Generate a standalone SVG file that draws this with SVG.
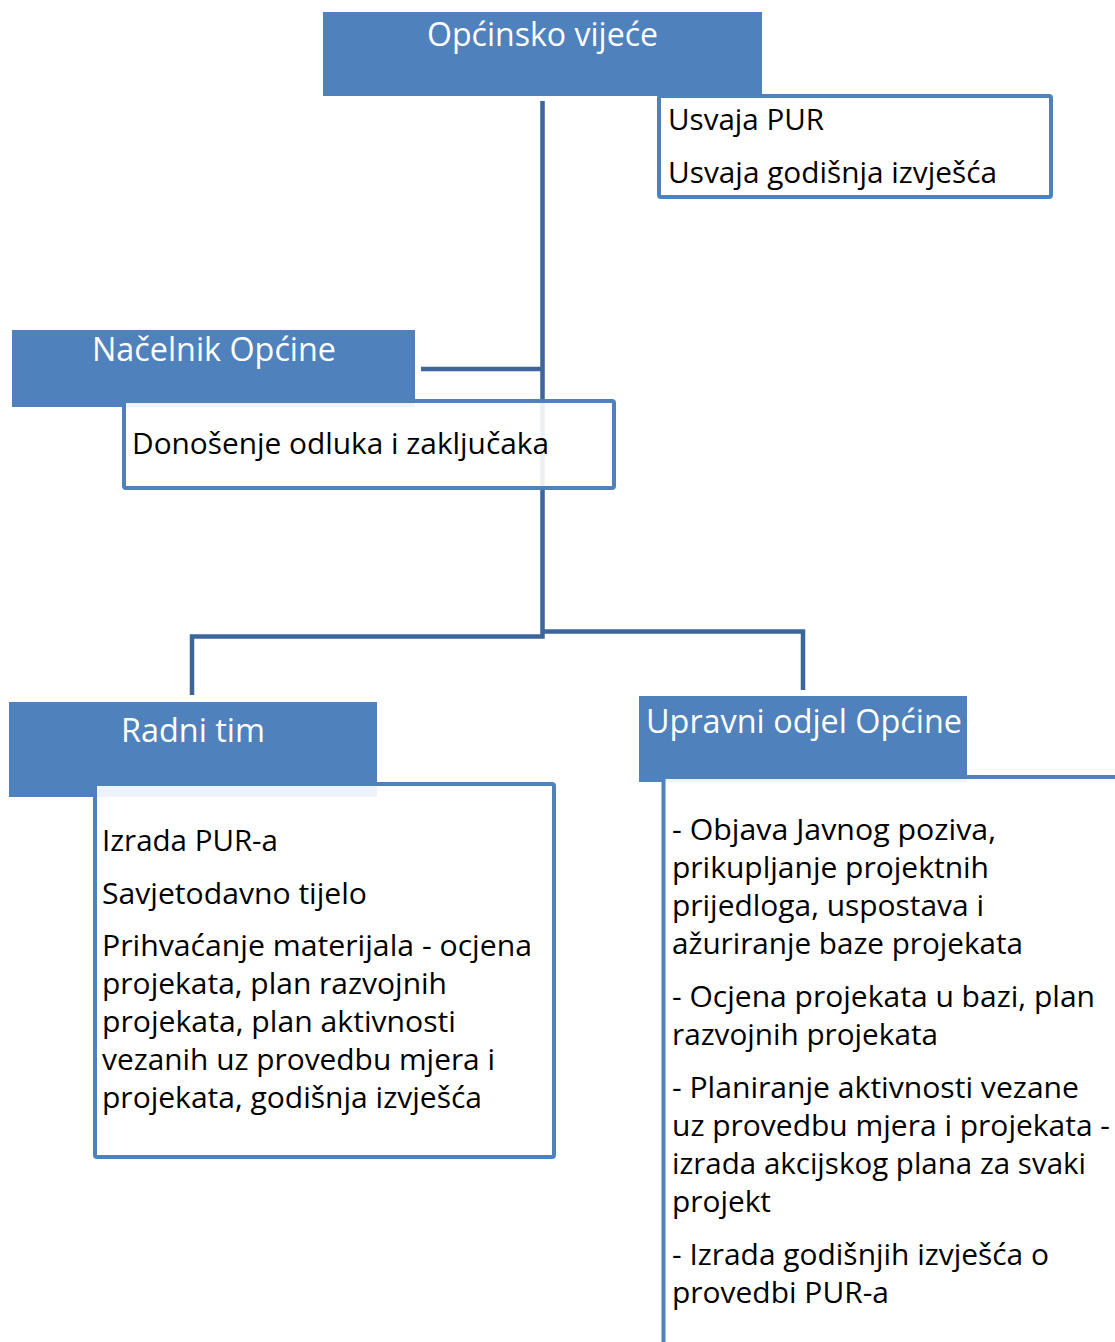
<svg xmlns="http://www.w3.org/2000/svg" width="1115" height="1342" viewBox="0 0 1115 1342">
<style>
.hdr{fill:#4F81BD}
.box{fill:#FFFFFF;fill-opacity:0.9;stroke:#4F81BD;stroke-width:4}
.conn{fill:none;stroke:#3C6699;stroke-width:4.5;stroke-linejoin:miter}
text{font-family:"Open Sans","Noto Sans",sans-serif;font-size:30px;fill:#000000}
text.h{font-size:32px;fill:#FFFFFF}
</style>
<rect width="1115" height="1342" fill="#FFFFFF"/>
<g id="connectors">
<path class="conn" d="M542.5,101 V636.5 H192 V695"/>
<path class="conn" d="M542.5,631.5 H803 V690"/>
<path class="conn" d="M421,369 H542.5"/>
</g>
<g id="node-opcinsko-vijece">
<rect class="hdr" x="323" y="12" width="439" height="84"/>
<text class="h" x="427" y="46" textLength="231" lengthAdjust="spacingAndGlyphs">Općinsko vijeće</text>
<rect class="box" x="659" y="96" width="392" height="101" rx="2"/>
<text x="668" y="130" textLength="156" lengthAdjust="spacingAndGlyphs">Usvaja PUR</text>
<text x="668" y="183" textLength="329" lengthAdjust="spacingAndGlyphs">Usvaja godišnja izvješća</text>
</g>
<g id="node-nacelnik">
<rect class="hdr" x="12" y="330" width="403" height="77"/>
<text class="h" x="92" y="361" textLength="244" lengthAdjust="spacingAndGlyphs">Načelnik Općine</text>
<rect class="box" x="124" y="401" width="490" height="87" rx="2"/>
<text x="132" y="454" textLength="417" lengthAdjust="spacingAndGlyphs">Donošenje odluka i zaključaka</text>
</g>
<g id="node-radni-tim">
<rect class="hdr" x="9" y="702" width="368" height="95"/>
<text class="h" x="121" y="742" textLength="144" lengthAdjust="spacingAndGlyphs">Radni tim</text>
<rect class="box" x="95" y="784" width="459" height="373" rx="2"/>
<text x="102" y="851" textLength="176" lengthAdjust="spacingAndGlyphs">Izrada PUR-a</text>
<text x="102" y="904" textLength="265" lengthAdjust="spacingAndGlyphs">Savjetodavno tijelo</text>
<text x="102" y="956" textLength="430" lengthAdjust="spacingAndGlyphs">Prihvaćanje materijala - ocjena</text>
<text x="102" y="994" textLength="345" lengthAdjust="spacingAndGlyphs">projekata, plan razvojnih</text>
<text x="102" y="1032" textLength="354" lengthAdjust="spacingAndGlyphs">projekata, plan aktivnosti</text>
<text x="102" y="1070" textLength="393" lengthAdjust="spacingAndGlyphs">vezanih uz provedbu mjera i</text>
<text x="102" y="1108" textLength="380" lengthAdjust="spacingAndGlyphs">projekata, godišnja izvješća</text>
</g>
<g id="node-upravni-odjel">
<rect class="hdr" x="639" y="696" width="328" height="86"/>
<text class="h" x="646" y="733" textLength="316" lengthAdjust="spacingAndGlyphs">Upravni odjel Općine</text>
<rect class="box" x="663.5" y="777" width="500" height="700" rx="2"/>
<text x="672" y="840" textLength="324" lengthAdjust="spacingAndGlyphs">- Objava Javnog poziva,</text>
<text x="672" y="878" textLength="317" lengthAdjust="spacingAndGlyphs">prikupljanje projektnih</text>
<text x="672" y="916" textLength="312" lengthAdjust="spacingAndGlyphs">prijedloga, uspostava i</text>
<text x="672" y="954" textLength="351" lengthAdjust="spacingAndGlyphs">ažuriranje baze projekata</text>
<text x="672" y="1007" textLength="423" lengthAdjust="spacingAndGlyphs">- Ocjena projekata u bazi, plan</text>
<text x="672" y="1045" textLength="266" lengthAdjust="spacingAndGlyphs">razvojnih projekata</text>
<text x="672" y="1098" textLength="407" lengthAdjust="spacingAndGlyphs">- Planiranje aktivnosti vezane</text>
<text x="672" y="1136" textLength="438" lengthAdjust="spacingAndGlyphs">uz provedbu mjera i projekata -</text>
<text x="672" y="1174" textLength="414" lengthAdjust="spacingAndGlyphs">izrada akcijskog plana za svaki</text>
<text x="672" y="1212" textLength="99" lengthAdjust="spacingAndGlyphs">projekt</text>
<text x="672" y="1265" textLength="377" lengthAdjust="spacingAndGlyphs">- Izrada godišnjih izvješća o</text>
<text x="672" y="1303" textLength="217" lengthAdjust="spacingAndGlyphs">provedbi PUR-a</text>
</g>
</svg>
